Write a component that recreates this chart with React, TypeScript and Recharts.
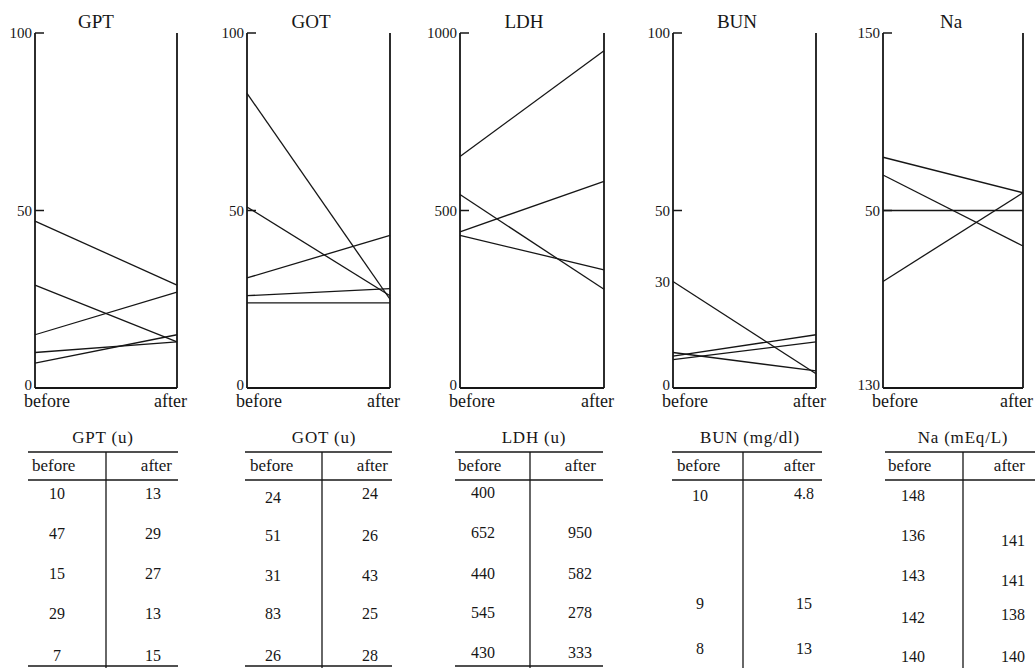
import React from 'react';
import { LineChart, Line, XAxis, YAxis, ReferenceLine } from 'recharts';

const ink = '#161616';
const serif = "'Liberation Serif', 'DejaVu Serif', 'Times New Roman', serif";

const categories = ['before', 'after'];

// GPT (u)
const gptBefore = [10, 47, 15, 29, 7];
const gptAfter = [13, 29, 27, 13, 15];
const gptTicks = [0, 50, 100];

// GOT (u)
const gotBefore = [24, 51, 31, 83, 26];
const gotAfter = [24, 26, 43, 25, 28];
const gotTicks = [0, 50, 100];

// LDH (u)
const ldhBefore = [400, 652, 440, 545, 430];
const ldhAfter = [null, 950, 582, 278, 333];
const ldhTicks = [0, 500, 1000];

// BUN (mg/dl): rows of the table, and the lines as drawn in the plot
const bunBefore = [10, null, null, 9, 8];
const bunAfter = [4.8, null, null, 15, 13];
const bunPlotBefore = [30, 10, 9, 8];
const bunPlotAfter = [4, 4.8, 15, 13];
const bunTicks = [0, 30, 50, 100];

// Na (mEq/L)
const naBefore = [148, 136, 143, 142, 140];
const naAfter = [null, 141, 141, 138, 140];
const naTicks = [130, 140, 150];
const naTickLabels = ['130', '50', '150'];

type Val = number | null;

function toRows(before: Val[], after: Val[]) {
  const pairs = before
    .map((b, k) => [b, after[k]])
    .filter(([b, a]) => b != null && a != null);
  const rows = categories.map((name, i) => {
    const row: Record<string, any> = { name };
    pairs.forEach((p, k) => {
      row['s' + k] = p[i];
    });
    return row;
  });
  return { rows, keys: pairs.map((_, k) => 's' + k) };
}

const panels = [
  { title: 'GPT', left: 35, right: 177, titleX: 96, before: gptBefore, after: gptAfter, domain: [0, 100], ticks: gptTicks, marked: [50, 100] },
  { title: 'GOT', left: 247, right: 390, titleX: 311, before: gotBefore, after: gotAfter, domain: [0, 100], ticks: gotTicks, marked: [50, 100] },
  { title: 'LDH', left: 460, right: 604, titleX: 524, before: ldhBefore, after: ldhAfter, domain: [0, 1000], ticks: ldhTicks, marked: [500, 1000] },
  { title: 'BUN', left: 673, right: 816, titleX: 737, before: bunPlotBefore, after: bunPlotAfter, domain: [0, 100], ticks: bunTicks, marked: [50, 100] },
  { title: 'Na', left: 883, right: 1023, titleX: 951, before: naBefore, after: naAfter, domain: [130, 150], ticks: naTicks, labels: naTickLabels, marked: [140, 150] },
];

const tables = [
  { title: 'GPT (u)', titleX: 103, x0: 28, x1: 178, div: 106, bx: 57, ax: 153, hbx: 32, hax: 172, by: [493, 533, 573, 613, 655], ay: [493, 533, 573, 613, 655], bottom: true, before: gptBefore, after: gptAfter },
  { title: 'GOT (u)', titleX: 324, x0: 245, x1: 392, div: 322, bx: 273, ax: 370, hbx: 250, hax: 388, by: [497, 535, 575, 613, 655], ay: [493, 535, 575, 613, 655], bottom: true, before: gotBefore, after: gotAfter },
  { title: 'LDH (u)', titleX: 534, x0: 455, x1: 603, div: 530, bx: 483, ax: 580, hbx: 458, hax: 596, by: [492, 532, 573, 612, 652], ay: [492, 532, 573, 612, 652], bottom: true, before: ldhBefore, after: ldhAfter },
  { title: 'BUN (mg/dl)', titleX: 750, x0: 672, x1: 822, div: 743, bx: 700, ax: 804, hbx: 677, hax: 815, by: [495, 0, 0, 603, 648], ay: [493, 0, 0, 603, 648], bottom: false, before: bunBefore, after: bunAfter },
  { title: 'Na (mEq/L)', titleX: 963, x0: 885, x1: 1040, div: 963, bx: 913, ax: 1013, hbx: 888, hax: 1025, by: [495, 535, 575, 617, 656], ay: [495, 540, 580, 614, 656], bottom: false, before: naBefore, after: naAfter },
];

const yTick = (ticks: number[], marked: number[], labels?: string[]) => (props: any) => {
  const { x, y, payload } = props;
  const v = payload.value;
  const i = ticks.indexOf(v);
  const label = labels ? labels[i] : String(v);
  return (
    <g>
      {marked.includes(v) && (
        <line x1={x + 3} x2={x + 12} y1={y} y2={y} stroke={ink} strokeWidth={1.5} />
      )}
      <text
        x={x}
        y={i === 0 ? y - 3 : y}
        textAnchor="end"
        dominantBaseline="central"
        style={{ fontFamily: serif, fontSize: 15, fill: ink }}
      >
        {label}
      </text>
    </g>
  );
};

// "before" sits a little right of its axis, "after" a little left of its own
const xTick = (props: any) => {
  const { x, y, payload } = props;
  const first = payload.value === categories[0];
  return (
    <text
      x={first ? x - 11 : x + 10}
      y={y}
      dy="0.72em"
      textAnchor={first ? 'start' : 'end'}
      style={{ fontFamily: serif, fontSize: 18, fill: ink }}
    >
      {payload.value}
    </text>
  );
};

function Panel({ p }: { p: any }) {
  const { rows, keys } = toRows(p.before, p.after);
  const axisW = 45;
  const w = p.right - p.left;
  return (
    <div style={{ position: 'absolute', left: p.left - axisW, top: 0 }}>
      <LineChart width={w + axisW + 25} height={420} data={rows} margin={{ top: 33, right: 25, bottom: 0, left: 0 }}>
        <XAxis
          dataKey="name"
          height={32}
          interval={0}
          axisLine={{ stroke: ink, strokeWidth: 1.8 }}
          tickLine={false}
          tickSize={0}
          tickMargin={6}
          tick={xTick}
        />
        <YAxis
          type="number"
          width={axisW}
          domain={p.domain}
          ticks={p.ticks}
          interval={0}
          axisLine={{ stroke: ink, strokeWidth: 1.8 }}
          tickLine={false}
          tickSize={0}
          tickMargin={3}
          tick={yTick(p.ticks, p.marked, p.labels)}
        />
        <ReferenceLine x="after" stroke={ink} strokeWidth={1.8} />
        {keys.map((k) => (
          <Line key={k} dataKey={k} stroke={ink} strokeWidth={1.3} dot={false} isAnimationActive={false} />
        ))}
      </LineChart>
    </div>
  );
}

function Table({ t }: { t: any }) {
  const txt = (size: number) => ({ fontFamily: serif, fontSize: size, fill: ink });
  return (
    <g>
      <text x={t.titleX} y={437} textAnchor="middle" dominantBaseline="central" letterSpacing={0.8} style={txt(17)}>
        {t.title}
      </text>
      <line x1={t.x0} x2={t.x1} y1={452} y2={452} stroke={ink} strokeWidth={1.6} />
      <text x={t.hbx} y={465} textAnchor="start" dominantBaseline="central" style={txt(17)}>before</text>
      <text x={t.hax} y={465} textAnchor="end" dominantBaseline="central" style={txt(17)}>after</text>
      <line x1={t.x0} x2={t.x1} y1={480} y2={480} stroke={ink} strokeWidth={1.6} />
      <line x1={t.div} x2={t.div} y1={452} y2={668} stroke={ink} strokeWidth={1.3} />
      {t.before.map((v: Val, i: number) =>
        v == null ? null : (
          <text key={'b' + i} x={t.bx} y={t.by[i]} textAnchor="middle" dominantBaseline="central" style={txt(16)}>
            {String(v)}
          </text>
        )
      )}
      {t.after.map((v: Val, i: number) =>
        v == null ? null : (
          <text key={'a' + i} x={t.ax} y={t.ay[i]} textAnchor="middle" dominantBaseline="central" style={txt(16)}>
            {String(v)}
          </text>
        )
      )}
      {t.bottom && <line x1={t.x0} x2={t.x1} y1={666} y2={666} stroke={ink} strokeWidth={1.6} />}
    </g>
  );
}

export default function App() {
  return (
    <div style={{ position: 'absolute', left: 0, top: 0, width: 1035, height: 668, overflow: 'hidden', background: '#fff' }}>
      {panels.map((p) => (
        <Panel key={p.title} p={p} />
      ))}
      <svg width={1035} height={668} style={{ position: 'absolute', left: 0, top: 0, pointerEvents: 'none' }}>
        {panels.map((p) => (
          <text
            key={p.title}
            x={p.titleX}
            y={21}
            textAnchor="middle"
            dominantBaseline="central"
            style={{ fontFamily: serif, fontSize: 19, fill: ink }}
          >
            {p.title}
          </text>
        ))}
        {tables.map((t) => (
          <Table key={t.title} t={t} />
        ))}
      </svg>
    </div>
  );
}
